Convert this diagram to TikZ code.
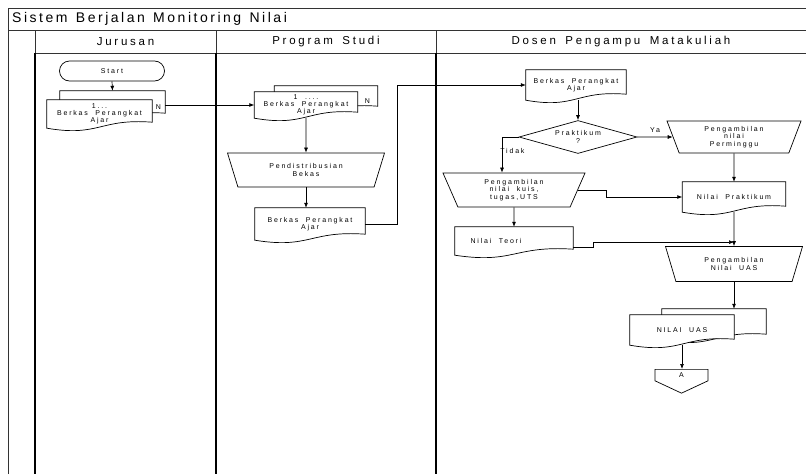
\documentclass[tikz,border=0pt]{standalone}
\usepackage{fontspec}
\setmainfont{Liberation Sans}
\newfontfamily\hurufjudul{Liberation Sans}[LetterSpace=18,WordSpace=1.3]
\newfontfamily\hurufkepala{Liberation Sans}[LetterSpace=24,WordSpace=1.6]
\newfontfamily\hurufkecil{Liberation Sans}[LetterSpace=26,WordSpace=2]
\usetikzlibrary{shapes.geometric,shapes.symbols,arrows.meta,backgrounds}

\newcommand{\judul}{\hurufjudul\fontsize{14}{16}\selectfont}
\newcommand{\kepala}{\hurufkepala\fontsize{11.5}{13}\selectfont}
\newcommand{\kecil}{\hurufkecil\fontsize{7}{7.2}\selectfont}

% garis dokumen dengan bawah bergelombang, di belakang node #1
\newcommand{\lembar}[1]{%
  \begin{pgfonlayer}{background}
  \draw[bentuk, fill=white] (#1.north west) -- (#1.north east) -- ([yshift=6pt]#1.south east)
    .. controls ([yshift=10pt]#1.south) and ([yshift=-9pt]#1.south) .. (#1.south west) -- cycle;
  \end{pgfonlayer}}

\tikzset{
  bingkai/.style={draw=black!80, line width=0.8pt},
  lajur/.style={draw=black, line width=1.4pt},
  bentuk/.style={draw=black, line width=0.7pt},
  panah/.style={draw=black, line width=0.7pt, -{Latex[length=5pt,width=4pt]}},
  teks/.style={font=\kecil, inner sep=1pt},
  dok/.style={font=\kecil, align=center, inner sep=1pt},
  terminal/.style={bentuk, rectangle, rounded corners=10pt, minimum width=105, minimum height=20, font=\kecil},
  trapesium/.style={bentuk, trapezium, shape border rotate=180, trapezium left angle=#1, trapezium right angle=#1,
    trapezium stretches body=true, font=\kecil, align=center, inner sep=1pt},
  keputusan/.style={bentuk, diamond, aspect=3.6, minimum width=118, minimum height=33, font=\kecil, align=center, inner sep=0pt},
  konektor/.style={bentuk, signal, signal to=south, signal from=nowhere, signal pointer angle=130,
    minimum width=53, minimum height=13, font=\kecil, inner sep=1pt}
}

\begin{document}
\begin{tikzpicture}[x=1pt, y=-1pt]
\useasboundingbox (0,0) rectangle (806,474);
% kerangka swimlane
\draw[bingkai] (8,474) -- (8,8) -- (806,8);
\draw[bingkai] (8,30) -- (806,30);
\draw[bingkai] (35,53) -- (806,53);
\foreach \x in {35,216,436} {
  \draw[bingkai] (\x,30) -- (\x,53);
  \draw[lajur] (\x,53) -- (\x,474);
}
\draw (12,19) node[anchor=west, font=\judul, inner sep=0pt] (judul) {Sistem Berjalan Monitoring Nilai};
\draw (125.5,41.5) node[font=\kepala] (jurusan) {Jurusan};
\draw (326,41.5) node[font=\kepala] (prodi) {Program Studi};
\draw (621,41.5) node[font=\kepala] (dosen) {Dosen Pengampu Matakuliah};

% Jurusan
\draw (112,71) node[terminal] (start) {Start};
\draw (112.5,105) node[dok, minimum width=105, minimum height=28] (berkasJb) {};
\lembar{berkasJb}
\draw (99.5,114) node[dok, minimum width=105, minimum height=28] (berkasJ) {1...\\Berkas Perangkat\\Ajar};
\lembar{berkasJ}
\draw (158.5,107) node[teks] (nJ) {N};
\draw[panah] (start.south) -- (berkasJb.north);

% Program Studi
\draw (326,99) node[dok, minimum width=103, minimum height=26] (berkasPb) {};
\lembar{berkasPb}
\draw (306,105) node[dok, minimum width=103, minimum height=26] (berkasP) {1 ....\\Berkas Perangkat\\Ajar};
\lembar{berkasP}
\draw (367.5,101) node[teks] (nP) {N};
\draw[panah] (berkasJb.east) -- (berkasJb.east -| berkasP.west);
\draw (306,170) node[trapesium=54, minimum width=157, minimum height=34] (distribusi) {Pendistribusian\\Bekas};
\draw[panah] (berkasP.south) -- (distribusi.north);
\draw (310,224) node[dok, minimum width=110, minimum height=32] (berkasP2) {Berkas Perangkat\\Ajar};
\lembar{berkasP2}
\draw[panah] (distribusi.south) -- (distribusi.south |- berkasP2.north);

% Dosen Pengampu
\draw (576,85) node[dok, minimum width=100, minimum height=30] (berkasD) {Berkas Perangkat\\Ajar};
\lembar{berkasD}
\draw[panah] (berkasP2.east) -- ++(32,0) |- (berkasD.west);
\draw (578,137) node[keputusan] (praktikum) {Praktikum\\?};
\draw[panah] (berkasD.south -| praktikum.north) -- (praktikum.north);
\draw (514,190) node[trapesium=57, minimum width=142, minimum height=34] (kuis) {Pengambilan\\nilai kuis,\\tugas,UTS};
\draw[panah] (praktikum.west) -| ([xshift=-12pt]kuis.north) node[teks, pos=0.7, anchor=west, xshift=-3pt] (tidak) {Tidak};
\draw (514,241) node[dok, minimum width=118, minimum height=28] (teori) {Nilai Teori\hspace*{36pt}};
\lembar{teori}
\draw[panah] (kuis.south) -- (teori.north);
\draw (734,137) node[trapesium=62, minimum width=134, minimum height=32] (perminggu) {Pengambilan\\nilai\\Perminggu};
\draw[panah] (praktikum.east) -- (perminggu.west) node[teks, midway, above, yshift=3pt] (ya) {Ya};
\draw (734,197) node[dok, minimum width=103, minimum height=30] (nprak) {Nilai Praktikum};
\lembar{nprak}
\draw[panah] (perminggu.south) -- (nprak.north);
\draw[panah] (kuis.east) -- ++(28,0) |- (nprak.west);
\draw (734,264) node[trapesium=54, minimum width=137, minimum height=35] (ambilUAS) {Pengambilan\\Nilai UAS};
\draw[panah] (nprak.south) -- (ambilUAS.north);
\draw[panah] ([yshift=-6pt]teori.east) -- ++(20,0) |- ([yshift=4pt]ambilUAS.north);
\draw (714,324.5) node[dok, minimum width=104, minimum height=31] (nuasb) {};
\lembar{nuasb}
\draw (682,330) node[dok, minimum width=104, minimum height=30] (nuas) {NILAI UAS};
\lembar{nuas}
\draw[panah] (ambilUAS.south) -- (ambilUAS.south |- nuasb.north);
\draw (681.5,369) node[konektor, anchor=north] (keA) {A};
\draw[panah] (nuas.south) -- (nuas.south |- keA.north);
\end{tikzpicture}
\end{document}
